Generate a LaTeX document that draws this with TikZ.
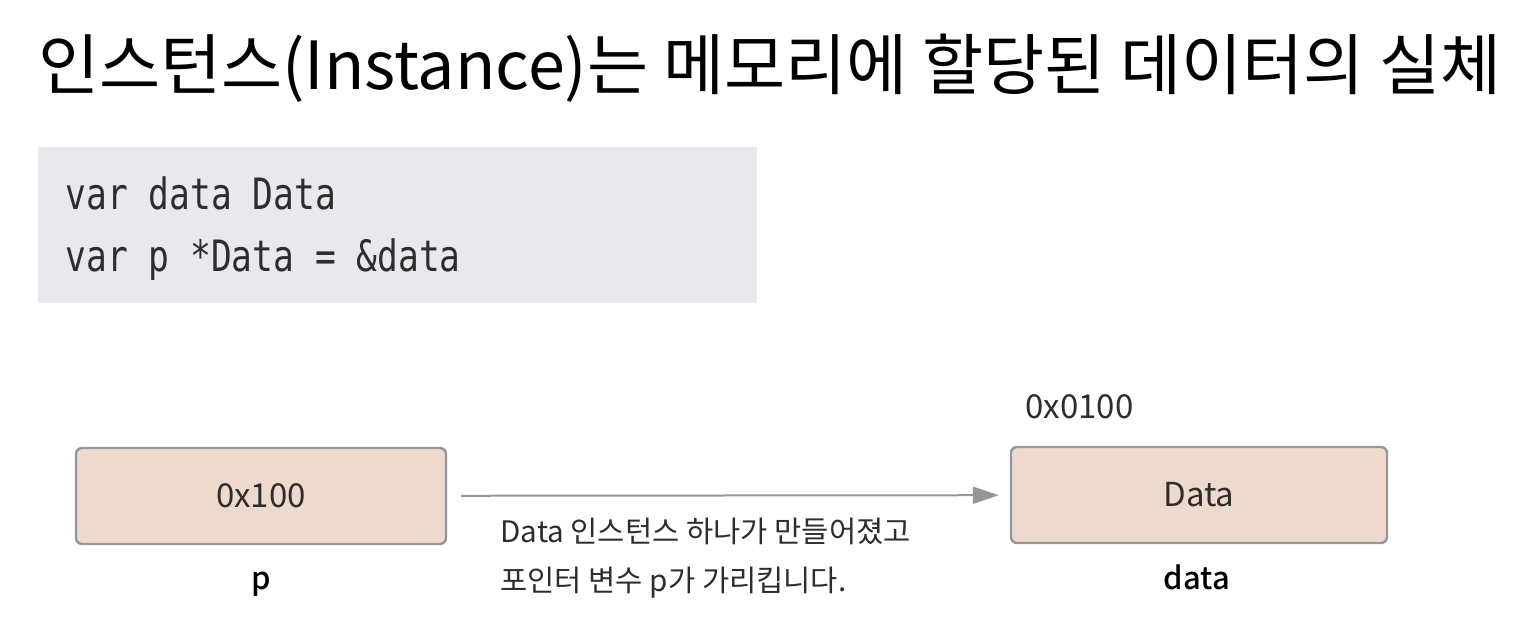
\documentclass[tikz,border=0pt]{standalone}
\usepackage{fontspec}
\setmainfont{Noto Sans CJK KR}
\newfontfamily\labelfont{Noto Sans CJK KR Medium}
\newfontfamily\codefont[FakeStretch=0.8]{DejaVu Sans Mono}
\usetikzlibrary{arrows.meta,positioning}
\definecolor{codegray}{RGB}{233,232,237}
\definecolor{memfill}{RGB}{237,218,205}
\definecolor{memline}{RGB}{150,150,150}
\definecolor{inktext}{RGB}{45,45,45}

\begin{document}
\begin{tikzpicture}[x=0.5pt,y=-0.5pt,>={Triangle[length=13pt,width=8.5pt]},
    mem box/.style={rectangle,rounded corners=3pt,draw=memline,line width=1.2pt,
      fill=memfill,minimum width=185pt,minimum height=48pt,
      font=\fontsize{16.5}{20}\selectfont,text=inktext},
    var label/.style={font=\labelfont\fontsize{15.5}{18}\selectfont,anchor=base,inner sep=0pt},
    code line/.style={font=\codefont\fontsize{21.6}{26}\selectfont,text=inktext,
      anchor=base west,inner sep=0pt},
    note line/.style={font=\fontsize{14.8}{18}\selectfont,text=inktext,
      anchor=base west,inner sep=0pt}]
    \useasboundingbox (0,0) rectangle (1528,635);
    % title
    \node (title) [anchor=base,inner sep=0pt,font=\fontsize{33.2}{38}\selectfont]
      at (770,90) {인스턴스(Instance)는 메모리에 할당된 데이터의 실체};
    % code
    \node (code) [fill=codegray,minimum width=359.5pt,minimum height=78pt,inner sep=0pt]
      at (397.5,225) {};
    \node[code line] (line1) at (65,210) {var data Data};
    \node[code line] (line2) at (65,272) {var p *Data = \&data};
    % memory
    \node[mem box] (p) at (261,496) {0x100};
    \node[mem box,minimum width=188pt] (data) at (1199,495) {Data};
    \node[var label] (plabel) at (261,590) {p};
    \node[var label] (datalabel) at (1197,590) {data};
    \node (addr) [anchor=base west,inner sep=0pt,text=inktext,
      font=\fontsize{16.5}{20}\selectfont] at (1025,419) {0x0100};
    \draw[->,memline,line width=1pt,shorten <=7pt,shorten >=5.5pt] (p) -- (data);
    \node[note line] (note1) at (500,543) {Data 인스턴스 하나가 만들어졌고};
    \node[note line] (note2) at (500,592) {포인터 변수 p가 가리킵니다.};
\end{tikzpicture}
\end{document}
